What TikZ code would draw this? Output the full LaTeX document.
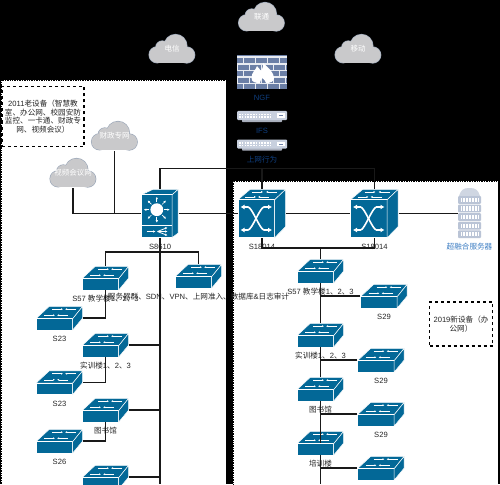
\documentclass[tikz,border=0pt]{standalone}
\usepackage{fontspec}
\setmainfont{Liberation Sans}
\newfontfamily\cjk{Noto Sans CJK SC}
\usetikzlibrary{arrows.meta,calc}
\definecolor{swblue}{HTML}{036897}
\definecolor{cloudgray}{HTML}{C9C9CB}
\definecolor{cloudedge}{HTML}{9AA6B8}
\definecolor{devgray}{HTML}{BAC4D6}
\definecolor{brickblue}{HTML}{6B7FA6}
\definecolor{lblblue}{HTML}{0F3F80}
\definecolor{srvblue}{HTML}{3F7FC4}
\newcommand{\zh}[1]{{\cjk #1}}
\tikzset{
  lbl/.style={inner sep=0pt,text height=5.6pt,text depth=1.4pt,text=black!85,font=\fontsize{7.6}{9}\selectfont},
  below lbl/.style={label={[lbl,label distance=5.5pt]below:#1}},
  blue lbl/.style={label={[lbl,text=lblblue,label distance=5.5pt]below:#1}},
  pics/wgicon/.style={code={
    \begin{scope}[shift={(-23.5,-12)},draw=white,line width=.5pt]
      \filldraw[fill=swblue] (0,12.7) -- (13.3,.3) -- (46.7,.3) -- (36.7,12.7) -- cycle;
      \filldraw[fill=swblue] (0,12.7) rectangle (36.7,24);
      \filldraw[fill=swblue] (36.7,12.7) -- (46.7,.3) -- (46.7,12) -- (36.7,24) -- cycle;
      \draw[line width=.6pt,-{Latex[length=2pt,width=2pt]}] (16,3.2) -- (27,3.2);
      \draw[line width=.6pt,-{Latex[length=2pt,width=2pt]}] (40,3.2) -- (29,3.2);
      \draw[line width=.6pt,-{Latex[length=2pt,width=2pt]}] (8,9.3) -- (19,9.3);
      \draw[line width=.6pt,-{Latex[length=2pt,width=2pt]}] (32,9.3) -- (21,9.3);
    \end{scope}}},
  pics/coreicon/.style={code={
    \begin{scope}[shift={(-24,-24.5)},draw=white,line width=.5pt]
      \filldraw[fill=swblue] (0,10.7) -- (12.3,.3) -- (47.7,.3) -- (36.7,10.7) -- cycle;
      \filldraw[fill=swblue] (0,10.7) rectangle (36.7,48.7);
      \filldraw[fill=swblue] (36.7,10.7) -- (47.7,.3) -- (47.7,37.5) -- (36.7,48.7) -- cycle;
      \draw[line width=.6pt,-{Latex[length=2pt,width=2pt]}] (14,3) -- (25,3);
      \draw[line width=.6pt,-{Latex[length=2pt,width=2pt]}] (39,3) -- (28,3);
      \draw[line width=.6pt,-{Latex[length=2pt,width=2pt]}] (7,8) -- (18,8);
      \draw[line width=.6pt,-{Latex[length=2pt,width=2pt]}] (31,8) -- (20,8);
      \draw[line width=1.6pt,{Latex[length=4pt,width=5pt]}-{Latex[length=4pt,width=5pt]}] (2.5,18) -- (10,18) .. controls (14,18) and (22,41) .. (26,41) -- (34,41);
      \draw[line width=1.6pt,{Latex[length=4pt,width=5pt]}-{Latex[length=4pt,width=5pt]}] (2.5,41) -- (10,41) .. controls (14,41) and (22,18) .. (26,18) -- (34,18);
    \end{scope}}},
  pics/lthreeicon/.style={code={
    \begin{scope}[shift={(-18.5,-24.5)},draw=white,line width=.5pt]
      \filldraw[fill=swblue] (0,5.7) -- (11.7,.3) -- (36.7,.3) -- (30.7,5.7) -- cycle;
      \filldraw[fill=swblue] (0,5.7) rectangle (30.7,36);
      \filldraw[fill=swblue] (0,36.4) rectangle (30.7,48.5);
      \filldraw[fill=swblue] (30.7,5.7) -- (36.7,.3) -- (36.7,44) -- (30.7,48.5) -- cycle;
      \fill[white] (15.3,20.7) circle (6.4pt);
      \foreach \ang in {0,45,...,315}
        \draw[line width=.7pt,-{Latex[length=2.5pt,width=2.5pt]}] ($(15.3,20.7)+(\ang:7.5)$) -- ($(15.3,20.7)+(\ang:13)$);
      \draw[line width=.8pt,-{Latex[length=2.5pt,width=2.5pt]}] (5,42.5) -- (14,42.5);
      \draw[line width=.8pt,-{Latex[length=2.5pt,width=2.5pt]}] (16,42.5) -- (26,38.5);
      \draw[line width=.8pt,-{Latex[length=2.5pt,width=2.5pt]}] (16,42.5) -- (26,42.5);
      \draw[line width=.8pt,-{Latex[length=2.5pt,width=2.5pt]}] (16,42.5) -- (26,46.5);
    \end{scope}}},
  pics/cloudicon/.style={code={
    \begin{scope}[shift={(-23.5,-15)}]
      \foreach \cx/\cy/\cr in {8.6/20.8/8,13.8/13.5/6.5,27/11.9/11.4,38.2/21/8}
        \draw[cloudedge,line width=1.2pt] (\cx,\cy) circle (\cr pt);
      \draw[cloudedge,line width=1.2pt] (8.6,15) rectangle (38.2,28.8);
      \foreach \cx/\cy/\cr in {8.6/20.8/8,13.8/13.5/6.5,27/11.9/11.4,38.2/21/8}
        \fill[cloudgray] (\cx,\cy) circle (\cr pt);
      \fill[cloudgray] (8.6,15) rectangle (38.2,28.8);
    \end{scope}}},
  pics/fwallicon/.style={code={
    \begin{scope}[shift={(-25,-17)}]
      \fill[brickblue] (0,0) rectangle (50,34);
      \foreach \row in {0,1,...,4}
        \fill[white!85!brickblue] (0,{1.5+\row*6.6}) rectangle (50,{3+\row*6.6});
      \foreach \row in {0,2,4}
        \foreach \col in {6,18,...,48}
          \fill[white!85!brickblue] (\col,{3+\row*6.6}) rectangle ({\col+1.2},{8.1+\row*6.6});
      \foreach \row in {1,3}
        \foreach \col in {0,12,...,48}
          \fill[white!85!brickblue] (\col,{3+\row*6.6}) rectangle ({\col+1.2},{8.1+\row*6.6});
      \fill[white] (14.5,23) .. controls (14.5,17) and (19,15) .. (20,11) .. controls (22,13) and (23,15) .. (24,16)
        .. controls (26,13) and (26.5,10) .. (26,8) .. controls (32,13) and (37,18) .. (37,23)
        .. controls (37,27) and (33,28) .. (29,28) .. controls (29,26) and (27,25) .. (25.5,23)
        .. controls (24,25) and (23,26) .. (23,28) .. controls (18,28) and (14.5,27) .. (14.5,23) -- cycle;
    \end{scope}}},
  pics/rackicon/.style={code={
    \begin{scope}[shift={(-25,-5.5)}]
      \fill[devgray!70!gray,rounded corners=.6pt] (5,8) rectangle (45,11);
      \fill[devgray!80!white,rounded corners=1pt] (0,0) rectangle (50,9);
      \foreach \col in {2,4.8,...,34}
        \fill[white] (\col,2.6) rectangle ({\col+1.6},4);
      \foreach \col in {2,4.8,...,34}
        \fill[white] (\col,5.4) rectangle ({\col+1.6},6.8);
      \fill[white] (40,2.4) rectangle (47.5,6.8);
      \fill[brickblue] (41.5,4.2) rectangle (46,5);
    \end{scope}}},
  pics/srvicon/.style={code={
    \begin{scope}[shift={(-11.5,-25.5)}]
      \fill[devgray!70!white] (1,8) .. controls (3,2) and (5,0) .. (11.5,0) .. controls (18,0) and (20,2) .. (22,8) -- cycle;
      \foreach \row in {0,1,...,4} {
        \fill[devgray,rounded corners=1pt] (0,{8+\row*8.6}) rectangle (23,{15.8+\row*8.6});
        \fill[white] (2.5,{9.8+\row*8.6}) rectangle (20.5,{14+\row*8.6});
        \foreach \col in {4,7,...,19}
          \fill[devgray] (\col,{9.8+\row*8.6}) rectangle ({\col+.7},{14+\row*8.6});
      }
    \end{scope}}},
  wgsw/.style={minimum width=47pt,minimum height=24pt,inner sep=0pt},
  coresw/.style={minimum width=48pt,minimum height=49pt,inner sep=0pt},
  lthreesw/.style={minimum width=37pt,minimum height=49pt,inner sep=0pt},
  fwall/.style={minimum width=50pt,minimum height=34pt,inner sep=0pt},
  rackdev/.style={minimum width=50pt,minimum height=11pt,inner sep=0pt},
  hcisrv/.style={minimum width=23pt,minimum height=51pt,inner sep=0pt},
  cloudtxt/.style={minimum width=47pt,minimum height=30pt,inner sep=0pt,text=white,
    font=\fontsize{7.5}{9}\selectfont},
  boxpanel/.style={draw=black,fill=white,densely dotted,line width=.7pt},
  notebox/.style={draw=black,fill=white,dashed,line width=1.2pt,align=center,inner sep=2pt,
    text=black!85,font=\fontsize{7.6}{8.7}\selectfont},
  link/.style={line width=1.1pt,black!90}
}
\begin{document}
\begin{tikzpicture}[x=1pt,y=-1pt]
  \useasboundingbox (0,0) rectangle (500,484);
  \clip (0,0) rectangle (500,484);
  \fill[black] (0,0) rectangle (500,484);
  \node[boxpanel,minimum width=225pt,minimum height=420pt,inner sep=0pt] (oldpanel) at (113.5,290) {};
  \node[boxpanel,minimum width=265pt,minimum height=320pt,inner sep=0pt] (newpanel) at (365.5,341) {};

  \foreach \nm/\px/\py/\txt in {unicom/261.5/17/联通,telecom/172/49/电信,mobile/358/49/移动,
      finance/114.5/136/财政专网,video/73/173/视频会议网} {
    \pic at (\px,\py) {cloudicon};
    \node[cloudtxt] (\nm) at (\px,\py) {\zh{\txt}};
  }
  \pic at (262,72) {fwallicon};
  \node[fwall,blue lbl=NGF] (ngf) at (262,72) {};
  \pic at (262,116.5) {rackicon};
  \node[rackdev,blue lbl=IFS] (ifs) at (262,116.5) {};
  \pic at (262,145) {rackicon};
  \node[rackdev,blue lbl=\zh{上网行为}] (behav) at (262,145) {};

  \node[notebox,minimum width=82pt,minimum height=60pt] (oldnote) at (43,116.5)
    {2011\zh{老设备（智慧教}\\\zh{室、办公网、校园安防}\\\zh{监控、一卡通、财政专}\\\zh{网、视频会议）}};
  \pic at (160,213.5) {lthreeicon};
  \node[lthreesw,below lbl=S8610] (s8610) at (160,213.5) {};
  \pic at (262,213.5) {coreicon};
  \node[coresw,below lbl=S18014] (corea) at (262,213.5) {};
  \pic at (374.5,213.5) {coreicon};
  \node[coresw,below lbl=S18014] (coreb) at (374.5,213.5) {};
  \pic at (469.5,213.5) {srvicon};
  \node[hcisrv,label={[lbl,text=srvblue,label distance=4.5pt]below:\zh{超融合服务器}}] (hci) at (469.5,213.5) {};
  \node[notebox,minimum width=63pt,minimum height=44pt] (newnote) at (461,324)
    {2019\zh{新设备（办}\\\zh{公网）}};

  \foreach \nm/\px/\py/\txt in {
      teachl/105.5/278/{S57 \zh{教学楼}1\zh{、}2\zh{、}3},
      srvgrp/198.5/276/{\zh{服务器群、}SDN\zh{、}VPN\zh{、上网准入、数据库}\&\zh{日志审计}},
      s23a/59.5/318/S23,
      trainl/105.5/345/{\zh{实训楼}1\zh{、}2\zh{、}3},
      s23b/59.5/382.5/S23,
      libl/105.5/410/\zh{图书馆},
      s26/59.5/441/S26,
      lastl/105.5/477/{},
      teachr/320.5/271/{S57 \zh{教学楼}1\zh{、}2\zh{、}3},
      s29a/384/296/S29,
      trainr/320.5/335/{\zh{实训楼}1\zh{、}2\zh{、}3},
      s29b/381/360/S29,
      libr/320.5/389/\zh{图书馆},
      s29c/381/414/S29,
      cultr/320.5/443/\zh{培训楼},
      s29d/381/468/{}} {
    \pic at (\px,\py) {wgicon};
    \node[wgsw,below lbl=\txt] (\nm) at (\px,\py) {};
  }

  \coordinate (lbus) at (160,252);
  \coordinate (rbus) at (320.5,248);
  \coordinate (ltrunk) at (160,484);
  \coordinate (rtrunk) at (320.5,484);

  \draw[link] (finance.south) |- (s8610.west);
  \draw[link] (video.south) |- (s8610.west);
  \draw[link] (s8610.north) |- ($(corea.north)+(0,-20)$) -- (corea.north);
  \draw[link] ($(corea.north)+(0,-20)$) -| (coreb.north);
  \draw[link] (s8610.east) -- (corea.west);
  \draw[link] (corea.east) -- (coreb.west);
  \draw[link] (coreb.east) -- (hci.west);
  \draw[link] (s8610.south) -- (ltrunk);
  \draw[link] (teachl.north) |- (lbus) -| (srvgrp.north);
  \draw[link] (teachl.south) |- (s23a.east);
  \draw[link] (trainl.south) |- (s23b.east);
  \draw[link] (libl.south) |- (s26.east);
  \draw[link] (trainl.east) -- (trainl.east -| ltrunk);
  \draw[link] (libl.east) -- (libl.east -| ltrunk);
  \draw[link] (lastl.east) -- (lastl.east -| ltrunk);
  \draw[link] (corea.south) |- (rbus) -| (coreb.south);
  \draw[link] (rbus) -- (teachr.north);
  \draw[link] (teachr.south) -- (trainr.north);
  \draw[link] (trainr.south) -- (libr.north);
  \draw[link] (libr.south) -- (cultr.center);
  \draw[link] (cultr.south) -- (rtrunk);
  \draw[link] (s29a.west) -- (s29a.west -| rtrunk);
  \draw[link] (s29b.west) -- (s29b.west -| rtrunk);
  \draw[link] (s29c.west) -- (s29c.west -| rtrunk);
  \draw[link] (s29d.west) -- (s29d.west -| rtrunk);
\end{tikzpicture}
\end{document}
